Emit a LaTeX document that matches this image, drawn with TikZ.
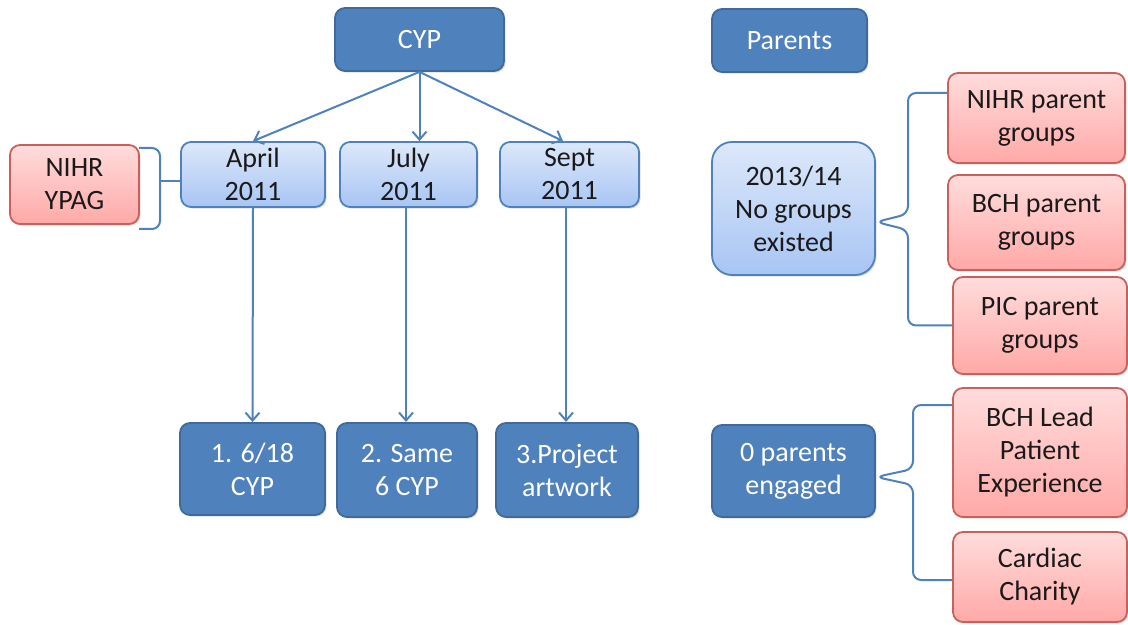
\documentclass[tikz,border=0pt]{standalone}
\usepackage{fontspec}
\setmainfont{Carlito}
\usetikzlibrary{arrows.meta,shadows}
\definecolor{dblue}{HTML}{4F81BD}
\definecolor{dblueb}{HTML}{3F6A9C}
\definecolor{lbtop}{HTML}{DDE8FA}
\definecolor{lbbot}{HTML}{A8C5F4}
\definecolor{ptop}{HTML}{FFDCDC}
\definecolor{pbot}{HTML}{FFA9A7}
\definecolor{redb}{HTML}{C9605C}
\definecolor{txt}{HTML}{1A1A1A}
\tikzset{
  box/.style={rounded corners=5pt, draw, line width=0.9pt, inner sep=0pt, align=center,
    font=\fontsize{14}{16.5}\selectfont,
    drop shadow={shadow xshift=0.8pt, shadow yshift=-0.8pt, opacity=0.25}},
  dark/.style={box, fill=dblue, draw=dblueb, text=white},
  light/.style={box, draw=dblue, top color=lbtop, bottom color=lbbot, text=txt},
  pink/.style={box, draw=redb, top color=ptop, bottom color=pbot, text=txt},
  conn/.style={draw=dblue, line width=1pt},
  arr/.style={conn, -{Straight Barb[length=4pt,width=7pt]}},
  brace/.style={conn, rounded corners=4pt}
}
\begin{document}
\begin{tikzpicture}[x=0.5pt,y=-0.5pt]
\useasboundingbox (0,0) rectangle (1128,625);
% left part
\node[dark, minimum width=84.5pt, minimum height=31.5pt] (cyp) at (419.5,39.5) {CYP};
\node[pink, minimum width=64.5pt, minimum height=39.5pt] (ypag) at (74.5,184.5) {NIHR\\YPAG};
\node[light, minimum width=72pt, minimum height=32.5pt] (april) at (253,174.5) {April\\2011};
\node[light, minimum width=68.5pt, minimum height=32.5pt] (july) at (408.5,174.5) {July\\2011};
\node[light, minimum width=69.5pt, minimum height=32.5pt] (sept) at (569.5,174.5) {Sept\\2011};
\node[dark, minimum width=72.5pt, minimum height=46pt] (b1) at (252.5,469) {1. 6/18\\CYP};
\node[dark, minimum width=70pt, minimum height=47pt] (b2) at (407,470) {2. Same\\6 CYP};
\node[dark, minimum width=71pt, minimum height=47pt] (b3) at (567,470) {3.Project\\artwork};
% right part
\node[dark, minimum width=77.5pt, minimum height=31.5pt] (parents) at (789.5,40.5) {Parents};
\node[light, rounded corners=10pt, minimum width=81.5pt, minimum height=66.5pt] (exist) at (793.5,208.5) {2013/14\\No groups\\existed};
\node[pink, minimum width=88.5pt, minimum height=45pt] (npg) at (1036.5,118) {NIHR parent\\groups};
\node[pink, minimum width=88.5pt, minimum height=47.5pt] (bpg) at (1036.5,222.5) {BCH parent\\groups};
\node[pink, minimum width=87pt, minimum height=48.5pt] (ppg) at (1040,325.5) {PIC parent\\groups};
\node[dark, minimum width=81.5pt, minimum height=46pt] (eng) at (793.5,471) {0 parents\\engaged};
\node[pink, minimum width=87pt, minimum height=64.5pt] (lead) at (1040,452.5) {BCH Lead\\Patient\\Experience};
\node[pink, minimum width=87pt, minimum height=45pt] (cardiac) at (1040,577) {Cardiac\\Charity};
% arrows
\draw[arr] (cyp.south) -- (april.north);
\draw[arr] (cyp.south) -- (cyp.south |- july.north);
\draw[arr] (cyp.south) -- (sept.north -| 563,0);
\draw[arr] (april.south) -- (b1.north);
\draw[arr] (406,207) -- (406,422);
\draw[arr] (566,207) -- (566,422);
% braces
\coordinate (lt) at (139,148);
\coordinate (lb) at (139,229);
\draw[brace] (lt) -- (160,148) -- (160,229) -- (lb);
\draw[conn] (160,181) -- (april.west |- 0,181);
\draw[brace] (npg.west |- 0,93) -- (908,93) -- (908,214) -- (exist.east |- 0,222) -- (908,230) -- (908,325.5) -- (ppg.west);
\draw[brace] (lead.west |- 0,405) -- (913,405) -- (913,469) -- (eng.east |- 0,477) -- (913,485) -- (913,580) -- (cardiac.west |- 0,580);
\end{tikzpicture}
\end{document}
